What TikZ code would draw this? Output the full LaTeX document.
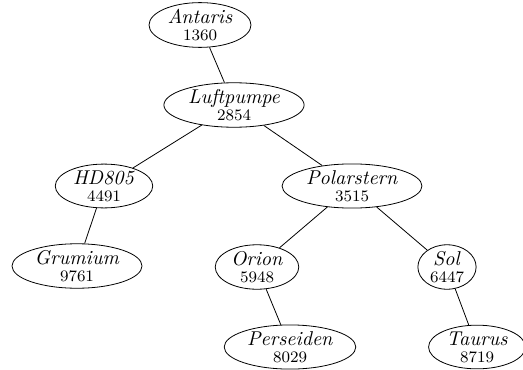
\documentclass[tikz,border=0pt]{standalone}
\usetikzlibrary{shapes.geometric}
\begin{document}
\begin{tikzpicture}[x=0.5pt,y=-0.5pt,
  star/.style={ellipse,draw,thin,inner xsep=1.8pt,inner ysep=0pt,align=center},
  edge/.style={draw,thin}]
\useasboundingbox (0,0) rectangle (523,369);
\newcommand{\lbl}[2]{\textit{#1}\\[-3.5pt]{\footnotesize #2}}
\node[star] (ant) at (200,25) {\lbl{Antaris}{1360}};
\node[star] (luf) at (234,105) {\lbl{Luftpumpe}{2854}};
\node[star] (hd) at (104,186) {\lbl{HD805}{4491}};
\node[star] (pol) at (352,186) {\lbl{Polarstern}{3515}};
\node[star] (gru) at (77,266) {\lbl{Grumium}{9761}};
\node[star] (ori) at (257,267) {\lbl{Orion}{5948}};
\node[star] (sol) at (447,267) {\lbl{Sol}{6447}};
\node[star] (per) at (290,347) {\lbl{Perseiden}{8029}};
\node[star] (tau) at (477,347) {\lbl{Taurus}{8719}};
\draw[edge] (ant) -- (luf);
\draw[edge] (luf) -- (hd);
\draw[edge] (luf) -- (pol);
\draw[edge] (hd) -- (gru);
\draw[edge] (pol) -- (ori);
\draw[edge] (pol) -- (sol);
\draw[edge] (ori) -- (per);
\draw[edge] (sol) -- (tau);
\end{tikzpicture}
\end{document}
